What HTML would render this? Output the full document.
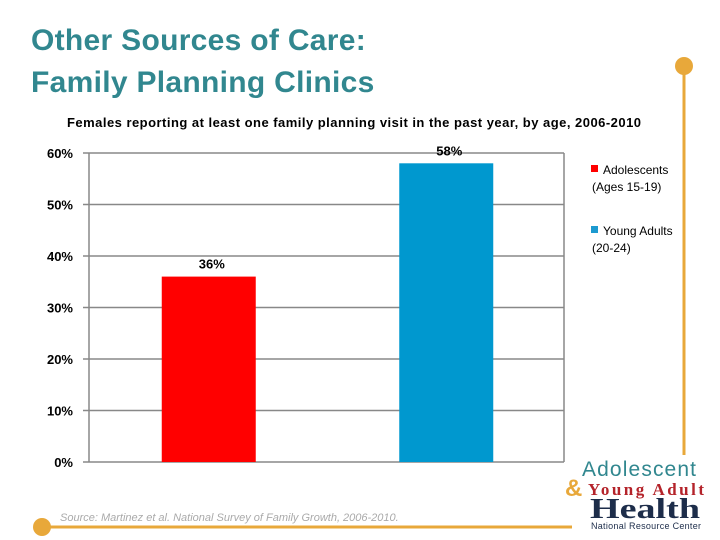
<!DOCTYPE html>
<html><head><meta charset="utf-8"><style>
body{margin:0;width:720px;height:540px;background:#fff;position:relative;overflow:hidden;font-family:"Liberation Sans",sans-serif}
.t{position:absolute;left:31px;color:#31878f;font-size:30px;font-weight:bold;line-height:42px;letter-spacing:0.3px}
</style></head><body>
<div class="t" style="top:20px">Other Sources of Care:<br>Family Planning Clinics</div>
<svg width="720" height="540" style="position:absolute;left:0;top:0">
<line x1="684" y1="66" x2="684" y2="455" stroke="#e8a83a" stroke-width="3"/>
<circle cx="684" cy="66" r="9" fill="#e8a83a"/>
<line x1="42" y1="527" x2="572" y2="527" stroke="#e8a83a" stroke-width="3"/>
<circle cx="42" cy="527" r="9" fill="#e8a83a"/>
<text x="67" y="127" font-size="13" font-weight="bold" textLength="574" fill="#000">Females reporting at least one family planning visit in the past year, by age, 2006-2010</text>
<g id="grid"></g><g id="bars"></g>
<rect x="591" y="165" width="7" height="7" fill="#ff0000"/>
<text x="603" y="174" font-size="12">Adolescents</text>
<text x="592" y="191" font-size="12">(Ages 15-19)</text>
<rect x="591" y="226" width="7" height="7" fill="#1c9ad0"/>
<text x="603" y="235" font-size="12">Young Adults</text>
<text x="592" y="252" font-size="12">(20-24)</text>
<text x="60" y="521" font-size="11" font-style="italic" fill="#aaa">Source: Martinez et al. National Survey of Family Growth, 2006-2010.</text>
<g>
<text x="582" y="476" font-size="21" fill="#31878f" textLength="114">Adolescent</text>
<text x="565" y="496" font-size="24" font-weight="bold" fill="#e8a83a">&amp;</text>
<text x="588" y="495" font-size="17" font-weight="bold" font-family="Liberation Serif" fill="#b4232a" textLength="116">Young Adult</text>
<text x="590" y="518" font-size="28" font-weight="bold" font-family="Liberation Serif" fill="#1d2d4a" textLength="110" lengthAdjust="spacingAndGlyphs">Health</text>
<text x="591" y="529" font-size="9" fill="#1d2d4a" textLength="110">National Resource Center</text>
</g>
</svg>
<script>
const categories=["Adolescents (Ages 15-19)","Young Adults (20-24)"];
const values=[36,58];
const colors=["#ff0000","#0098cf"];
const ticks=[0,10,20,30,40,50,60];
const x0=89,x1=564,yb=462,yt=153,ymax=60;
const y=v=>yb-(yb-yt)*v/ymax;
const ns="http://www.w3.org/2000/svg";
const g=document.getElementById('grid'),b=document.getElementById('bars');
function mk(t,a,p){const e=document.createElementNS(ns,t);for(const k in a)e.setAttribute(k,a[k]);p.appendChild(e);return e;}
ticks.forEach(t=>{
 const l=mk('line',{x1:x0-6,x2:x1,y1:y(t),y2:y(t),stroke:'#888','stroke-width':1.5},g);
 
 
 const tx=mk('text',{x:73,y:y(t)+5,'text-anchor':'end','font-size':13,'font-weight':'bold',fill:'#000'},g);
 tx.textContent=t+'%';
 
 
});
const ax=mk('line',{x1:x0,x2:x0,y1:yt,y2:yb,stroke:'#888','stroke-width':1.5},g);


const rx=mk('line',{x1:x1,x2:x1,y1:yt,y2:yb,stroke:'#888','stroke-width':1.5},g);


const slot=(x1-x0)/categories.length,bw=94;
values.forEach((v,i)=>{
 const cx=x0+slot*(i+0.5)+1;
 const r=mk('rect',{x:cx-bw/2,y:y(v),width:bw,height:yb-y(v),fill:colors[i]},b);
 
 
 const t=mk('text',{x:cx+3,y:y(v)-8,'text-anchor':'middle','font-size':13,'font-weight':'bold',fill:'#000'},b);
 t.textContent=v+'%';
 
 
});
</script>
</body></html>
